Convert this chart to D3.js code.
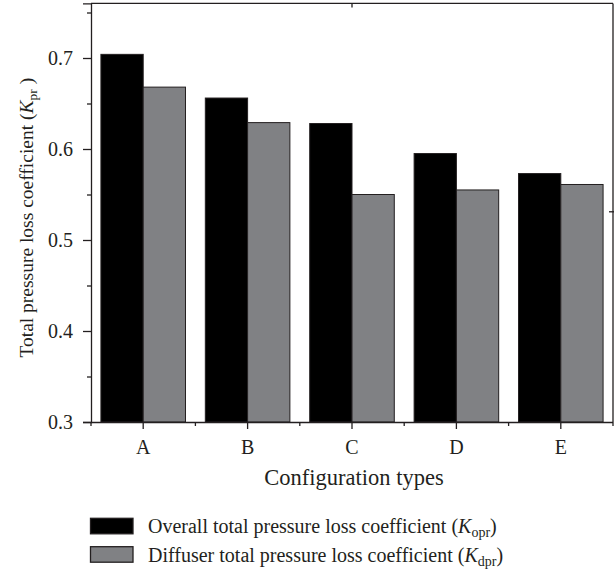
<!DOCTYPE html>
<html>
<head>
<meta charset="utf-8">
<script src="https://cdn.jsdelivr.net/npm/d3@7"></script>
<style>
  html, body { margin: 0; padding: 0; background: #fff; }
  svg { display: block; }
  text { font-family: "Liberation Serif", "DejaVu Serif", serif; fill: #231f20; }
</style>
</head>
<body>
<svg id="chart" width="614" height="569"></svg>
<script>
// ---- data ----
const categories = ["A", "B", "C", "D", "E"];
const overallValues = [0.704, 0.656, 0.628, 0.595, 0.573];   // K_opr
const diffuserValues = [0.668, 0.629, 0.550, 0.555, 0.561];  // K_dpr
const yMajorTicks = [0.3, 0.4, 0.5, 0.6, 0.7];
const yMinorTicks = [0.35, 0.45, 0.55, 0.65, 0.75];
const seriesNames = ["Overall total pressure loss coefficient", "Diffuser total pressure loss coefficient"];
const seriesSubs = ["opr", "dpr"];
const yDomain = [0.3, 0.76];

// ---- layout ----
const svg = d3.select("#chart");
const pLeft = 91, pRight = 613, pTop = 3.4, pBottom = 422;
const ink = "#231f20";
const colors = ["#000000", "#808184"];

const x = d3.scaleBand().domain(categories).range([pLeft, pRight]).paddingInner(0.19).paddingOuter(0.095);
const xSub = d3.scaleBand().domain([0, 1]).range([0, x.bandwidth()]).padding(0);
const y = d3.scaleLinear().domain(yDomain).range([pBottom, pTop]);

const rows = categories.map((c, i) => ({ cat: c, vals: [overallValues[i], diffuserValues[i]] }));

// bars
const g = svg.append("g");
rows.forEach(r => {
  r.vals.forEach((v, j) => {
    g.append("rect")
      .attr("x", x(r.cat) + xSub(j))
      .attr("y", y(v))
      .attr("width", xSub.bandwidth())
      .attr("height", y(yDomain[0]) - y(v))
      .attr("fill", colors[j])
      .attr("stroke", ink)
      .attr("stroke-width", 1);
  });
});

// frame (top and right)
svg.append("line").attr("x1", pLeft).attr("x2", pRight).attr("y1", y(yDomain[1])).attr("y2", y(yDomain[1]))
  .attr("stroke", ink).attr("stroke-width", 1.3);
svg.append("line").attr("x1", pRight).attr("x2", pRight).attr("y1", y(yDomain[1])).attr("y2", pBottom)
  .attr("stroke", ink).attr("stroke-width", 1.3);

// y axis
const yAxis = d3.axisLeft(y).tickValues(yMajorTicks).tickSize(8).tickPadding(10).tickFormat(d3.format(".1f"));
const yg = svg.append("g").attr("transform", `translate(${pLeft},0)`).call(yAxis);
yg.select(".domain").attr("stroke", ink).attr("stroke-width", 1.3);
yg.selectAll(".tick line").attr("stroke", ink).attr("stroke-width", 1.3);
yg.selectAll(".tick text").style("font-size", "20px").attr("fill", ink);
const ygm = svg.append("g").attr("transform", `translate(${pLeft},0)`)
  .call(d3.axisLeft(y).tickValues(yMinorTicks).tickSize(4).tickFormat(""));
ygm.select(".domain").remove();
ygm.selectAll(".tick line").attr("stroke", ink).attr("stroke-width", 1.3);

// x axis
const xAxis = d3.axisBottom(x).tickSize(7).tickPadding(11);
const xg = svg.append("g").attr("transform", `translate(0,${pBottom})`).call(xAxis);
xg.select(".domain").attr("stroke", ink).attr("stroke-width", 1.3).attr("d", `M${pLeft},0.5H${pRight}`);
xg.selectAll(".tick line").attr("stroke", ink).attr("stroke-width", 1.3);
xg.selectAll(".tick text").style("font-size", "20px").attr("fill", ink);
// minor x ticks at category boundaries
const boundaries = categories.map(c => x(c) - x.step() * x.paddingInner() / 2);
boundaries.push(x(categories[categories.length - 1]) + x.bandwidth() + x.step() * x.paddingInner() / 2);
svg.append("g").selectAll("line").data(boundaries).join("line")
  .attr("x1", d => d).attr("x2", d => d).attr("y1", pBottom).attr("y2", pBottom + 4)
  .attr("stroke", ink).attr("stroke-width", 1.3);

// stray small ticks seen in the reference
svg.append("line").attr("x1", x("C") + x.bandwidth() / 2).attr("x2", x("C") + x.bandwidth() / 2)
  .attr("y1", y(yDomain[1])).attr("y2", y(yDomain[1]) + 4).attr("stroke", ink).attr("stroke-width", 1.3);
svg.append("line").attr("x1", pRight - 4).attr("x2", pRight + 1).attr("y1", y(0.531)).attr("y2", y(0.531))
  .attr("stroke", ink).attr("stroke-width", 1.3);

// axis titles
svg.append("text").attr("x", (pLeft + pRight) / 2 + 2).attr("y", 485).attr("text-anchor", "middle")
  .style("font-size", "22.5px").text("Configuration types");

const yt = svg.append("text").attr("transform", `translate(33,${(pTop + pBottom) / 2 + 5}) rotate(-90)`)
  .attr("text-anchor", "middle").style("font-size", "19.5px");
yt.append("tspan").text("Total pressure loss coefficient (");
yt.append("tspan").style("font-style", "italic").text("K");
yt.append("tspan").attr("dy", 4).style("font-size", "13.5px").text("pr");
yt.append("tspan").attr("dy", -4).text(" )");

// legend
const lg = svg.append("g");
seriesNames.forEach((name, i) => {
  const yy = 518.3 + i * 28.4;
  lg.append("rect").attr("x", 90.5).attr("y", yy).attr("width", 42.5).attr("height", 15.5)
    .attr("fill", colors[i]).attr("stroke", ink).attr("stroke-width", 1.3);
  const t = lg.append("text").attr("x", 148).attr("y", yy + 15).style("font-size", "20px");
  t.append("tspan").text(name + " (");
  t.append("tspan").style("font-style", "italic").text("K");
  t.append("tspan").attr("dy", 4).style("font-size", "14px").text(seriesSubs[i]);
  t.append("tspan").attr("dy", -4).text(")");
});
</script>
</body>
</html>
